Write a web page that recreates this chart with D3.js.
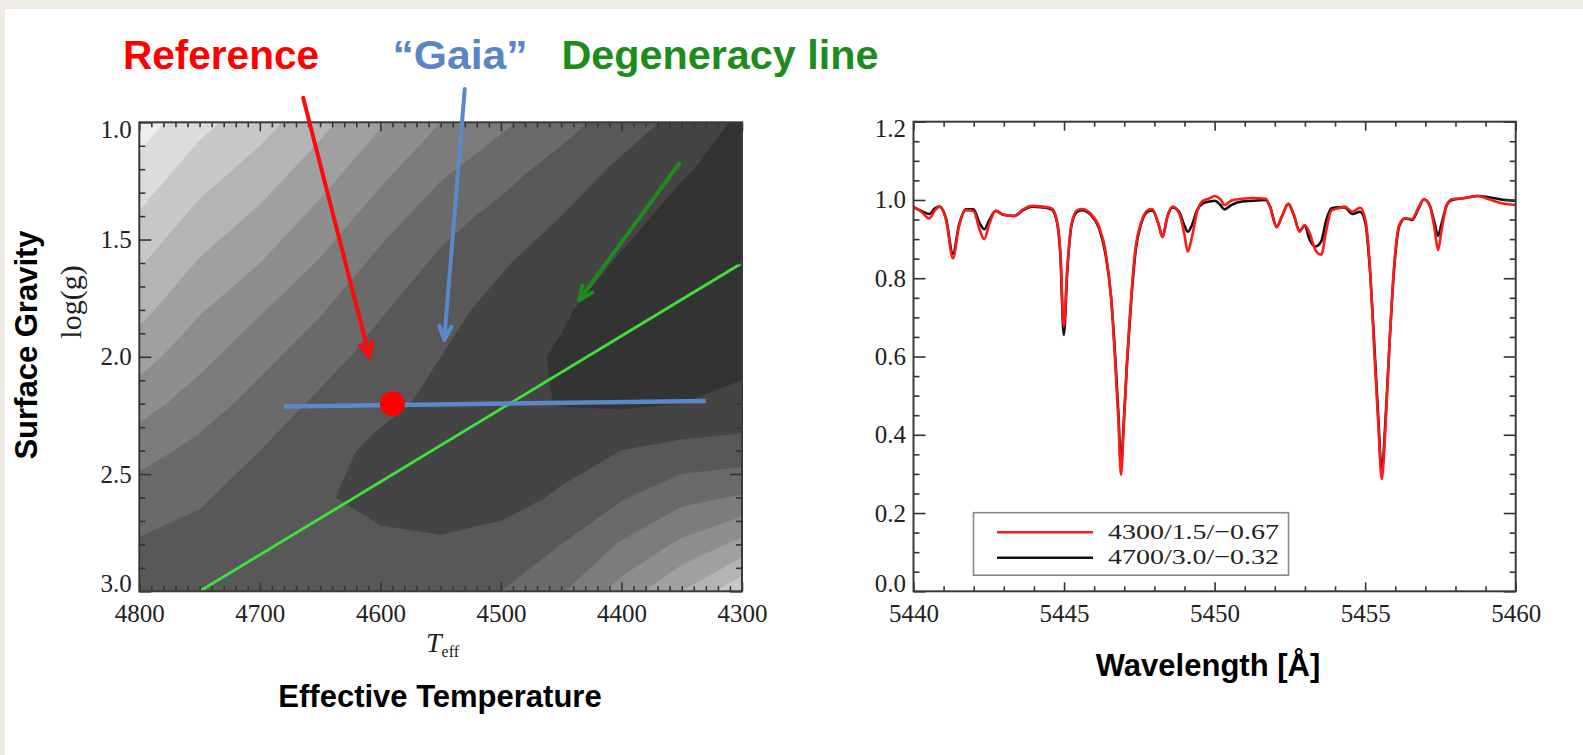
<!DOCTYPE html>
<html><head><meta charset="utf-8">
<script src="https://cdn.jsdelivr.net/npm/d3@7"></script>
<style>body{margin:0;background:#fff}svg{display:block}</style>
</head><body><svg id="c" width="1583" height="755"></svg>
<script>
// ---------- DATA ----------
const annotationTitles = ["Reference", "\u201CGaia\u201D", "Degeneracy line"];
const teffTicks = [4800, 4700, 4600, 4500, 4400, 4300];
const loggTicks = [1.0, 1.5, 2.0, 2.5, 3.0];
const teffGrid = [4800, 4750, 4700, 4650, 4600, 4550, 4500, 4450, 4400, 4350, 4300];
const loggGrid = [1.0, 1.2, 1.4, 1.6, 1.8, 2.0, 2.2, 2.4, 2.6, 2.8, 3.0];
// contour level (0 = best fit / darkest) read at each grid node
const levelGrid = [
  [10.0, 8.8, 7.9, 6.8, 5.6, 4.5, 3.7, 2.9, 2.0, 1.2, 0.3],
  [ 9.2, 8.0, 7.1, 6.0, 4.8, 3.7, 2.9, 2.1, 1.3, 0.6, 0.1],
  [ 8.4, 7.2, 6.3, 5.2, 4.0, 2.9, 2.2, 1.5, 0.8, 0.2, 0.0],
  [ 7.6, 6.4, 5.5, 4.4, 3.2, 2.3, 1.6, 1.0, 0.4, 0.0, 0.0],
  [ 6.8, 5.6, 4.6, 3.6, 2.6, 1.8, 1.2, 0.6, 0.1, 0.0, 0.0],
  [ 5.9, 4.8, 3.8, 2.9, 2.1, 1.5, 0.8, 0.4, 0.0, 0.0, 0.2],
  [ 4.9, 4.0, 3.1, 2.3, 1.7, 1.3, 0.8, 0.45, 0.35, 0.5, 0.8],
  [ 3.9, 3.2, 2.5, 1.8, 1.3, 1.1, 1.1, 1.2, 1.5, 1.8, 1.9],
  [ 3.0, 2.6, 2.1, 1.6, 1.2, 1.1, 1.2, 1.6, 2.4, 3.2, 3.6],
  [ 2.4, 2.2, 2.0, 1.8, 1.7, 1.6, 1.8, 2.5, 3.6, 4.7, 5.8],
  [ 2.0, 2.0, 1.9, 1.9, 2.0, 2.1, 2.5, 3.4, 4.9, 6.5, 8.3]
];
const levelColors = ["#333333","#444444","#585858","#6a6a6a","#7c7c7c","#8e8e8e","#a0a0a0","#b4b4b4","#c8c8c8","#dcdcdc","#eeeeee"];
const referencePoint = [4590, 2.2];
const gaiaLine = [[4680, 2.212], [4330, 2.188]];
const degeneracyLine = [[4750, 3.0], [4300, 1.6]];
const arrowStarts = [[4664, 0.896], [4530, 0.858], [4352, 1.175]];
const arrowTips   = [[4609, 2.0], [4547, 1.928], [4435, 1.758]];

const waveTicks = [5440, 5445, 5450, 5455, 5460];
const fluxTicks = [0.0, 0.2, 0.4, 0.6, 0.8, 1.0, 1.2];
const wavelength = [5440.00,5440.26,5440.52,5440.72,5440.86,5441.08,5441.31,5441.51,5441.74,5441.99,5442.20,5442.35,5442.52,5442.73,5442.99,5443.35,5443.64,5443.93,5444.29,5444.58,5444.76,5444.88,5444.99,5445.11,5445.25,5445.44,5445.61,5445.87,5446.16,5446.37,5446.56,5446.70,5446.81,5446.89,5446.98,5447.09,5447.24,5447.38,5447.55,5447.78,5447.93,5448.13,5448.27,5448.43,5448.60,5448.82,5448.99,5449.11,5449.25,5449.42,5449.61,5449.83,5450.00,5450.19,5450.33,5450.55,5450.91,5451.27,5451.70,5451.84,5452.06,5452.23,5452.45,5452.63,5452.82,5452.99,5453.16,5453.35,5453.54,5453.71,5453.88,5454.11,5454.32,5454.58,5454.83,5455.01,5455.15,5455.29,5455.44,5455.55,5455.67,5455.81,5455.96,5456.13,5456.33,5456.56,5456.76,5456.95,5457.14,5457.31,5457.42,5457.54,5457.71,5457.88,5458.31,5458.74,5459.11,5459.47,5460.00];
const fluxRed = [0.983,0.970,0.953,0.974,0.983,0.949,0.851,0.932,0.974,0.972,0.923,0.900,0.940,0.972,0.962,0.959,0.976,0.985,0.983,0.979,0.949,0.864,0.677,0.830,0.940,0.974,0.977,0.966,0.932,0.872,0.753,0.583,0.430,0.298,0.413,0.583,0.762,0.881,0.940,0.974,0.977,0.940,0.905,0.957,0.983,0.966,0.915,0.868,0.906,0.970,0.998,1.004,1.010,1.002,0.987,0.998,1.003,1.005,1.003,0.983,0.930,0.957,0.990,0.962,0.919,0.936,0.915,0.872,0.860,0.923,0.973,0.979,0.983,0.970,0.980,0.949,0.838,0.634,0.421,0.287,0.413,0.634,0.830,0.936,0.953,0.951,0.979,1.002,0.987,0.923,0.872,0.923,0.987,1.002,1.005,1.010,1.002,0.993,0.987];
const fluxBlack = [0.981,0.972,0.964,0.979,0.983,0.953,0.862,0.936,0.976,0.976,0.940,0.925,0.949,0.972,0.962,0.959,0.974,0.983,0.981,0.976,0.945,0.855,0.655,0.821,0.936,0.970,0.974,0.963,0.928,0.864,0.753,0.600,0.447,0.319,0.430,0.583,0.753,0.872,0.936,0.970,0.973,0.940,0.906,0.957,0.981,0.970,0.936,0.919,0.936,0.974,0.991,0.996,0.998,0.987,0.976,0.987,0.996,0.998,1.000,0.983,0.932,0.957,0.990,0.962,0.922,0.934,0.898,0.881,0.894,0.949,0.979,0.981,0.981,0.964,0.970,0.940,0.830,0.651,0.438,0.306,0.430,0.634,0.821,0.932,0.953,0.949,0.976,1.002,0.987,0.940,0.908,0.940,0.987,1.000,1.005,1.010,1.007,1.002,0.998];
const legendLabels = ["4300/1.5/\u22120.67", "4700/3.0/\u22120.32"];
const seriesColors = ["#ff1a1a", "#111111"];

// ---------- LAYOUT ----------
const W = 1583, H = 755;
const svg = d3.select("#c");
svg.append("rect").attr("width", W).attr("height", H).attr("fill", "#eeebe5");
svg.append("rect").attr("x", 5).attr("y", 9).attr("width", W - 5).attr("height", H - 9).attr("fill", "#ffffff");

const serif = "'Liberation Serif','Times New Roman',serif";
const sans = "'Liberation Sans',Arial,Helvetica,sans-serif";

const xL = d3.scaleLinear().domain([4800, 4300]).range([139.3, 742]);
const yL = d3.scaleLinear().domain([1.0, 3.0]).range([122.3, 591.3]);
const xR = d3.scaleLinear().domain([5440, 5460]).range([913.5, 1515.7]);
const yR = d3.scaleLinear().domain([0, 1.2]).range([591.3, 121.7]);

const defs = svg.append("defs");
defs.append("clipPath").attr("id", "clipL").append("rect")
  .attr("x", xL.range()[0]).attr("y", yL.range()[0])
  .attr("width", xL.range()[1] - xL.range()[0]).attr("height", yL.range()[1] - yL.range()[0]);
defs.append("clipPath").attr("id", "clipR").append("rect")
  .attr("x", xR.range()[0]).attr("y", yR.range()[1])
  .attr("width", xR.range()[1] - xR.range()[0]).attr("height", yR.range()[0] - yR.range()[1]);

// ---------- LEFT: filled contours ----------
const gL = svg.append("g");
const cont = gL.append("g").attr("clip-path", "url(#clipL)");
cont.append("rect").attr("x", xL.range()[0]).attr("y", yL.range()[0])
  .attr("width", xL.range()[1] - xL.range()[0]).attr("height", yL.range()[1] - yL.range()[0])
  .attr("fill", levelColors[0]);
const nx = teffGrid.length, ny = loggGrid.length;
const dT = teffGrid[1] - teffGrid[0], dG = loggGrid[1] - loggGrid[0];
const thresholds = d3.range(1, levelColors.length).map(k => k - 0.5);
const contours = d3.contours().size([nx, ny]).thresholds(thresholds)(levelGrid.flat());
const proj = d3.geoTransform({ point(cx, cy) {
  this.stream.point(xL(teffGrid[0] + (cx - 0.5) * dT), yL(loggGrid[0] + (cy - 0.5) * dG));
}});
const cpath = d3.geoPath(proj);
cont.selectAll("path.band").data(contours).join("path")
  .attr("class", "band").attr("d", cpath)
  .attr("fill", (d, i) => levelColors[i + 1]).attr("stroke", (d, i) => levelColors[i + 1]).attr("stroke-width", 0.5);

// overlays (clipped)
const ov = gL.append("g").attr("clip-path", "url(#clipL)");
ov.append("line")
  .attr("x1", xL(degeneracyLine[0][0])).attr("y1", yL(degeneracyLine[0][1]))
  .attr("x2", xL(degeneracyLine[1][0])).attr("y2", yL(degeneracyLine[1][1]))
  .attr("stroke", "#3fe03f").attr("stroke-width", 2.8);
ov.append("line")
  .attr("x1", xL(gaiaLine[0][0])).attr("y1", yL(gaiaLine[0][1]))
  .attr("x2", xL(gaiaLine[1][0])).attr("y2", yL(gaiaLine[1][1]))
  .attr("stroke", "#5b88c8").attr("stroke-width", 4.5);
ov.append("circle").attr("cx", xL(referencePoint[0])).attr("cy", yL(referencePoint[1]))
  .attr("r", 12.5).attr("fill", "#ff0000");

// axes helper
function drawAxes(g, x, y, xMaj, xMin, yMaj, yMin, xFmt, yFmt) {
  const [x0, x1] = x.range();
  const yTop = Math.min(...y.range()), yBot = Math.max(...y.range());
  const style = s => s.call(a => a.select(".domain").remove())
    .call(a => a.selectAll(".tick line").attr("stroke", "#333").attr("stroke-width", 1.6))
    .call(a => a.selectAll("text").attr("font-family", serif).attr("font-size", 25).attr("fill", "#222"));
  g.append("g").attr("transform", `translate(0,${yBot})`).call(d3.axisBottom(x).tickValues(xMin).tickSize(-5).tickFormat("")).call(style);
  g.append("g").attr("transform", `translate(0,${yTop})`).call(d3.axisTop(x).tickValues(xMin).tickSize(-5).tickFormat("")).call(style);
  g.append("g").attr("transform", `translate(${x0},0)`).call(d3.axisLeft(y).tickValues(yMin).tickSize(-6).tickFormat("")).call(style);
  g.append("g").attr("transform", `translate(${x1},0)`).call(d3.axisRight(y).tickValues(yMin).tickSize(-6).tickFormat("")).call(style);
  g.append("g").attr("transform", `translate(0,${yBot})`).call(d3.axisBottom(x).tickValues(xMaj).tickSize(-9).tickPadding(12.5).tickFormat(xFmt)).call(style);
  g.append("g").attr("transform", `translate(0,${yTop})`).call(d3.axisTop(x).tickValues(xMaj).tickSize(-9).tickFormat("")).call(style);
  const ya = g.append("g").attr("transform", `translate(${x0},0)`).call(d3.axisLeft(y).tickValues(yMaj).tickSize(-12).tickPadding(7.5).tickFormat(yFmt)).call(style);
  g.append("g").attr("transform", `translate(${x1},0)`).call(d3.axisRight(y).tickValues(yMaj).tickSize(-12).tickFormat("")).call(style);
  ya.selectAll(".tick").each(function(d) {
    const ty = y(d), cy = Math.max(yTop + 7, Math.min(yBot - 8, ty));
    d3.select(this).select("text").attr("y", cy - ty);
  });
  g.append("rect").attr("x", x0).attr("y", yTop).attr("width", x1 - x0).attr("height", yBot - yTop)
    .attr("fill", "none").attr("stroke", "#3a3a3a").attr("stroke-width", 2);
}

const teffMinor = d3.range(4800, 4299, -10).filter(v => v % 100 !== 0);
const loggMinor = d3.range(10, 31).filter(v => v % 5 !== 0).map(v => v / 10);
drawAxes(gL, xL, yL, teffTicks, teffMinor, loggTicks, loggMinor, d3.format("d"), d3.format(".1f"));

// arrows
const arrowColors = ["#ff0a0a", "#5b88c8", "#1f8a1f"];
arrowStarts.forEach((s, i) => {
  const x1 = xL(s[0]), y1 = yL(s[1]), x2 = xL(arrowTips[i][0]), y2 = yL(arrowTips[i][1]);
  const ang = Math.atan2(y2 - y1, x2 - x1), L = 15, sp = 0.42;
  const ag = svg.append("g").attr("stroke", arrowColors[i]).attr("stroke-width", 4).attr("fill", "none")
    .attr("stroke-linecap", "round").attr("stroke-linejoin", "round");
  ag.append("line").attr("x1", x1).attr("y1", y1).attr("x2", x2).attr("y2", y2);
  ag.append("path").attr("d", d3.line()([
    [x2 - L * Math.cos(ang - sp), y2 - L * Math.sin(ang - sp)], [x2, y2],
    [x2 - L * Math.cos(ang + sp), y2 - L * Math.sin(ang + sp)]]));
});

// titles
const titleColors = ["#ff0000", "#5a86c6", "#1c8c1c"];
const titleCenters = [221, 460, 720];
const titleWidths = [196, 135, 317];
annotationTitles.forEach((t, i) => {
  svg.append("text").attr("x", titleCenters[i]).attr("y", 69).attr("text-anchor", "middle")
    .attr("font-family", sans).attr("font-weight", "bold").attr("font-size", 40)
    .attr("fill", titleColors[i]).attr("textLength", titleWidths[i]).attr("lengthAdjust", "spacingAndGlyphs").text(t);
});

// left axis labels
svg.append("text").attr("transform", "translate(37,345) rotate(-90)").attr("text-anchor", "middle")
  .attr("font-family", sans).attr("font-weight", "bold").attr("font-size", 31).attr("fill", "#000").text("Surface Gravity");
svg.append("text").attr("transform", "translate(81,302) rotate(-90)").attr("text-anchor", "middle")
  .attr("font-family", serif).attr("font-size", 30).attr("fill", "#222").text("log(g)");
const teffLab = svg.append("text").attr("x", 426).attr("y", 652).attr("font-family", serif).attr("fill", "#222");
teffLab.append("tspan").attr("font-style", "italic").attr("font-size", 28).text("T");
teffLab.append("tspan").attr("font-size", 16).attr("dy", 5).text("eff");
svg.append("text").attr("x", 440).attr("y", 707).attr("text-anchor", "middle")
  .attr("font-family", sans).attr("font-weight", "bold").attr("font-size", 31).attr("fill", "#000").text("Effective Temperature");

// ---------- RIGHT: spectra ----------
const gR = svg.append("g");
const waveMinor = d3.range(5440, 5461).filter(v => v % 5 !== 0);
const fluxMinor = d3.range(0, 25).filter(v => v % 4 !== 0).map(v => v / 20);
const lineGen = d3.line().x(d => xR(d[0])).y(d => yR(d[1])).curve(d3.curveMonotoneX);
const specG = gR.append("g").attr("clip-path", "url(#clipR)");
[fluxBlack, fluxRed].forEach((f, k) => {
  specG.append("path").attr("d", lineGen(wavelength.map((w, i) => [w, f[i]])))
    .attr("fill", "none").attr("stroke", k === 0 ? seriesColors[1] : seriesColors[0]).attr("stroke-width", 2.6)
    .attr("stroke-linejoin", "round");
});
drawAxes(gR, xR, yR, waveTicks, waveMinor, fluxTicks, fluxMinor, d3.format("d"), d3.format(".1f"));

// legend
const lg = gR.append("g");
lg.append("rect").attr("x", 973.5).attr("y", 512.7).attr("width", 315).attr("height", 62.5)
  .attr("fill", "#fff").attr("stroke", "#888").attr("stroke-width", 1.6);
legendLabels.forEach((t, i) => {
  const yy = 532.3 + i * 25.4;
  lg.append("line").attr("x1", 997).attr("x2", 1093).attr("y1", yy).attr("y2", yy)
    .attr("stroke", seriesColors[i]).attr("stroke-width", 2.4);
  lg.append("text").attr("x", 1108).attr("y", yy + 6.5).attr("font-family", serif).attr("font-size", 22)
    .attr("fill", "#222").attr("textLength", 171).attr("lengthAdjust", "spacingAndGlyphs").text(t);
});

svg.append("text").attr("x", 1208).attr("y", 676).attr("text-anchor", "middle")
  .attr("font-family", sans).attr("font-weight", "bold").attr("font-size", 31).attr("fill", "#000").text("Wavelength [\u00C5]");
</script></body></html>
